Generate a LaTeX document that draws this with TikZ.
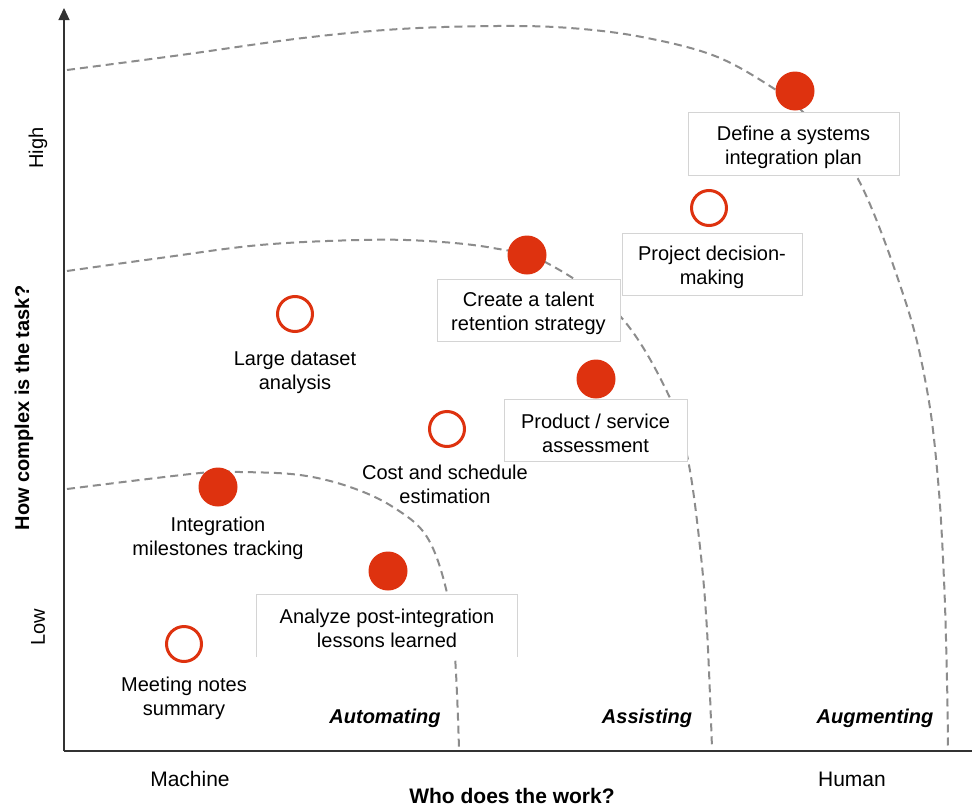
\documentclass[tikz,border=0pt]{standalone}
\usepackage{fontspec}
\setmainfont{Liberation Sans}
\usetikzlibrary{arrows.meta}
\definecolor{dotred}{RGB}{222,50,15}
\definecolor{curvegray}{RGB}{140,140,140}
\definecolor{boxgray}{RGB}{212,212,212}
\definecolor{axisgray}{RGB}{50,50,50}
\newcommand\lblfont{\fontsize{20}{24}\selectfont}
\newcommand\axfont{\fontsize{21}{25}\selectfont}
\begin{document}
\begin{tikzpicture}[x=1pt,y=-1pt,
  zone/.style={curvegray, line width=2pt, dash pattern=on 8pt off 5pt},
  fulldot/.style={circle, fill=dotred, minimum size=39pt, inner sep=0pt},
  opendot/.style={circle, draw=dotred, line width=3pt, fill=white, minimum size=35pt, inner sep=0pt},
  labelbox/.style={draw=boxgray, line width=0.9pt, fill=white, inner sep=0pt},
  freelabel/.style={align=center, inner sep=0pt, font=\lblfont},
  modelabel/.style={inner sep=0pt, font=\lblfont\bfseries\itshape},
  axislabel/.style={inner sep=0pt, font=\axfont},
  axistitle/.style={inner sep=0pt, font=\axfont\bfseries}
]
\useasboundingbox (0,0) rectangle (972,806);
\fill[white] (0,0) rectangle (972,806);

% dashed zone boundaries
\draw[zone] plot[smooth, tension=0.6] coordinates {(67,70) (181,55) (303,38) (400,29) (497,26) (570,28) (642,37) (715,56) (773,88) (803,112) (857,177) (905,300) (927,390) (938,480) (944,580) (947,680) (948,748)};
\draw[zone] plot[smooth, tension=0.6] coordinates {(67,271) (160,258) (260,245) (360,240) (427,241) (493,248) (547,263) (620,316) (670,398) (688,460) (700,547) (707,630) (712,748)};
\draw[zone] plot[smooth, tension=0.6] coordinates {(67,489) (200,473) (240,472) (300,475) (350,487) (393,507) (427,537) (447,593) (455,657) (459,748)};

% axes
\coordinate (origin) at (64,751);
\coordinate (ytop) at (64,8);
\coordinate (xend) at (972,751);
\draw[axisgray, line width=1.2pt, -{Triangle[width=11pt,length=12pt]}] (origin) -- (ytop);
\draw[axisgray, line width=1.2pt] (origin) -- (xend);

% boxes
\node[labelbox, minimum width=211pt, minimum height=63pt] (define) at (793.5,143.5) {};
\node[labelbox, minimum width=180pt, minimum height=62pt] (project) at (712,264) {};
\node[labelbox, minimum width=183pt, minimum height=62pt] (talent) at (528.5,310) {};
\node[labelbox, minimum width=183pt, minimum height=62pt] (product) at (595.5,430) {};
\node[fill=white, inner sep=0pt, minimum width=260pt, minimum height=62pt] (analyze) at (387,626) {};
\draw[boxgray, line width=0.9pt] (analyze.south west) -- (analyze.north west) -- (analyze.north east) -- (analyze.south east);

% box texts
\node[freelabel] (define-text) at (793.5,147) {Define a systems\\integration plan};
\node[freelabel] (project-text) at (712,267.5) {Project decision-\\making};
\node[freelabel] (talent-text) at (528.5,313.5) {Create a talent\\retention strategy};
\node[freelabel] (product-text) at (595.5,433.5) {Product / service\\assessment};
\node[freelabel] (analyze-text) at (387,628) {Analyze post-integration\\lessons learned};

% free labels
\node[freelabel] (dataset) at (295,372) {Large dataset\\analysis};
\node[freelabel] (cost) at (445,484) {Cost and schedule\\estimation};
\node[freelabel] (milestones) at (218,538) {Integration\\milestones tracking};
\node[freelabel] (meeting) at (184,698) {Meeting notes\\summary};

% dots
\node[fulldot] (d-define) at (795,91) {};
\node[opendot] (d-project) at (709,208) {};
\node[fulldot] (d-talent) at (527,255) {};
\node[fulldot] (d-product) at (596,379) {};
\node[opendot] (d-dataset) at (295,314) {};
\node[opendot] (d-cost) at (447,429) {};
\node[fulldot] (d-milestones) at (218,487) {};
\node[fulldot] (d-analyze) at (388,571) {};
\node[opendot] (d-meeting) at (184,644) {};

% mode labels
\node[modelabel] (automating) at (385,718) {Automating};
\node[modelabel] (assisting) at (647,718) {Assisting};
\node[modelabel] (augmenting) at (875,718) {Augmenting};

% axis labels
\node[axislabel] (machine) at (190,779) {Machine};
\node[axislabel] (human) at (852,779) {Human};
\node[axistitle] (xtitle) at (512,796) {Who does the work?};
\node[axislabel, font=\lblfont, rotate=90] (high) at (38,148) {High};
\node[axislabel, font=\lblfont, rotate=90] (low) at (38,627) {Low};
\node[axistitle, font=\lblfont\bfseries, rotate=90] (ytitle) at (24,408) {How complex is the task?};
\end{tikzpicture}
\end{document}
